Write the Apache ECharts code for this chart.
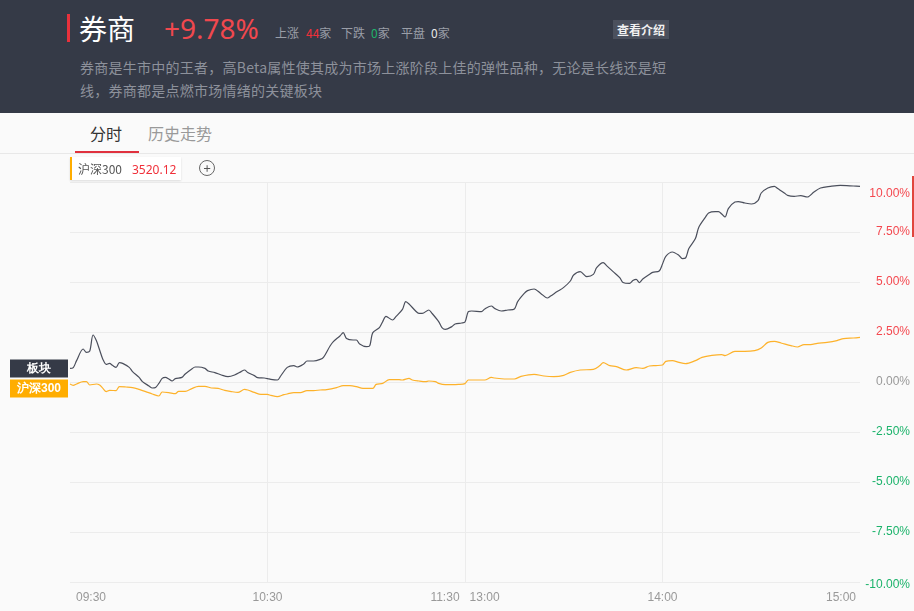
<!DOCTYPE html>
<html><head><meta charset="utf-8">
<script src="https://cdn.jsdelivr.net/npm/echarts@6/dist/echarts.min.js"></script>
<style>
body{margin:0;width:914px;height:611px;overflow:hidden;background:#fafafa;font-family:"Noto Sans CJK SC","Noto Sans",sans-serif;position:relative}
.a{position:absolute;white-space:nowrap}
#hd{position:absolute;left:0;top:0;width:914px;height:113px;background:#353a47}
</style></head><body>
<div id="hd">
  <div class="a" style="left:67px;top:14px;width:3px;height:28px;background:#e8313c"></div>
  <div class="a" style="left:79px;top:13px;font-size:28px;line-height:30px;color:#fff">券商</div>
  <div class="a" style="left:164px;top:13px;font-size:28px;line-height:30px;color:#f0484e;font-family:'Noto Sans',sans-serif">+9.78%</div>
  <div class="a" style="left:275px;top:25px;font-size:12px;line-height:16px;color:#9a9ea8">上涨</div>
  <div class="a" style="left:306px;top:25px;font-size:12px;line-height:16px;color:#9a9ea8"><span style="color:#f0303a">44</span>家</div>
  <div class="a" style="left:341px;top:25px;font-size:12px;line-height:16px;color:#9a9ea8">下跌</div>
  <div class="a" style="left:371px;top:25px;font-size:12px;line-height:16px;color:#9a9ea8"><span style="color:#1fb36b">0</span>家</div>
  <div class="a" style="left:401px;top:25px;font-size:12px;line-height:16px;color:#9a9ea8">平盘</div>
  <div class="a" style="left:431px;top:25px;font-size:12px;line-height:16px;color:#9a9ea8"><span style="color:#e8e8e8">0</span>家</div>
  <div class="a" style="left:613px;top:20px;width:56px;height:19px;background:#4b505d;color:#f2f2f2;font-size:12px;font-weight:bold;line-height:19px;text-align:center">查看介绍</div>
  <div class="a" style="left:80px;top:56px;font-size:14px;line-height:23px;color:#8d919b;letter-spacing:0.25px">券商是牛市中的王者，高Beta属性使其成为市场上涨阶段上佳的弹性品种，无论是长线还是短<br>线，券商都是点燃市场情绪的关键板块</div>
</div>
<div class="a" style="left:90px;top:122px;font-size:16px;line-height:22px;color:#333">分时</div>
<div class="a" style="left:148px;top:122px;font-size:16px;line-height:22px;color:#999">历史走势</div>
<div class="a" style="left:0;top:153px;width:914px;height:1px;background:#e8e8e8"></div>
<div class="a" style="left:75px;top:151px;width:64px;height:2px;background:#e0313e"></div>
<div class="a" style="left:70px;top:157px;width:109px;height:23px;background:#fff;border-left:2px solid #ffad00;box-shadow:0 1px 2px rgba(0,0,0,0.12);font-size:12px;line-height:23px;z-index:2"><span style="margin-left:6px;color:#555">沪深300</span><span style="margin-left:10px;color:#f0303a;font-family:'Noto Sans',sans-serif">3520.12</span></div>
<div class="a" style="left:199px;top:160px;width:14px;height:14px;border:1px solid #666;border-radius:50%;font-size:13px;line-height:14px;text-align:center;color:#555;z-index:2">+</div>
<div class="a" style="left:912px;top:176px;width:2px;height:61px;background:#e0463d;z-index:2"></div>
<div id="chart" style="position:absolute;left:0;top:113px;width:914px;height:498px"></div>
<script>
const tickLabels = ['09:30', '10:30', '11:30   13:00', '14:00', '15:00'];

const sectorMinute = [
  0,1,2,4,5,6,7,8,9,10,
  11,12,13,14,15,16,18,19,21,22,
  24,25,26,27,28,29,30,31,32,34,
  35,37,38,39,41,42,44,46,48,50,
  52,53,54,56,57,59,60,61,63,64,
  66,68,69,71,72,74,76,77,79,80,
  82,83,84,86,87,88,90,91,92,94,
  95,96,98,99,101,102,103,105,106,107,
  109,110,112,113,114,116,117,119,120,121,
  122,125,126,128,129,131,133,135,136,138,
  139,141,143,145,146,148,150,152,153,155,
  157,159,160,162,163,165,167,168,170,171,
  172,173,174,176,177,179,180,181,183,185,
  186,187,188,190,191,193,194,196,197,198,
  199,200,202,203,205,207,209,210,212,214,
  215,217,218,220,222,224,226,228,231,234,
  238,240
];
const sectorValue = [
  0.68,0.72,1.07,1.65,1.48,1.55,2.35,2.07,1.60,1.13,
  0.88,0.93,0.82,0.73,0.97,0.93,0.73,0.52,0.23,0.02,
  -0.20,-0.30,-0.27,-0.07,0.18,0.23,0.15,0.05,0.17,0.23,
  0.40,0.65,0.75,0.75,0.68,0.55,0.47,0.35,0.27,0.35,
  0.52,0.60,0.48,0.32,0.22,0.20,0.17,0.13,0.10,0.30,
  0.73,0.82,0.75,0.90,1.05,1.05,1.13,1.23,1.80,2.02,
  2.30,2.47,2.18,2.10,2.10,1.90,1.77,1.80,2.47,2.72,
  3.02,3.28,3.10,3.27,3.63,4.02,3.90,3.55,3.43,3.43,
  3.60,3.43,3.02,2.72,2.63,2.77,2.90,2.95,3.00,3.52,
  3.55,3.52,3.65,3.80,3.68,3.55,3.60,3.65,4.02,4.43,
  4.57,4.65,4.43,4.20,4.30,4.52,4.73,5.05,5.35,5.52,
  5.27,5.38,5.72,5.97,5.82,5.52,5.22,4.98,4.93,5.07,
  5.13,4.97,5.15,5.38,5.48,5.55,5.90,6.28,6.50,6.33,
  6.17,6.20,6.67,7.17,7.73,8.23,8.45,8.52,8.52,8.40,
  8.25,8.67,9.00,9.02,8.95,8.90,9.07,9.45,9.70,9.78,
  9.67,9.45,9.33,9.28,9.32,9.25,9.50,9.70,9.78,9.83,
  9.80,9.78
];

const indexMinute = [
  0,1,2,4,5,6,8,9,10,11,
  12,14,15,17,19,21,23,25,27,28,
  30,32,33,35,37,39,41,43,45,47,
  49,51,53,54,56,58,60,61,63,65,
  66,68,70,72,74,76,78,81,83,85,
  87,89,92,93,95,97,100,101,103,104,
  106,108,109,111,112,114,116,118,120,121,
  123,126,128,129,132,135,137,141,144,147,
  150,152,155,159,161,162,164,166,169,172,
  174,176,178,180,181,183,185,187,190,192,
  195,198,199,202,205,208,210,212,214,216,
  219,221,223,225,227,230,233,235,238,240
];
const indexValue = [
  -0.10,-0.17,-0.10,0.02,0.02,-0.15,-0.10,-0.15,-0.32,-0.48,
  -0.42,-0.43,-0.23,-0.25,-0.28,-0.37,-0.48,-0.60,-0.70,-0.50,
  -0.53,-0.58,-0.47,-0.47,-0.33,-0.22,-0.22,-0.30,-0.32,-0.42,
  -0.48,-0.52,-0.37,-0.40,-0.52,-0.62,-0.62,-0.67,-0.73,-0.63,
  -0.60,-0.53,-0.53,-0.43,-0.43,-0.40,-0.38,-0.28,-0.18,-0.18,
  -0.23,-0.32,-0.32,-0.12,-0.07,0.12,0.12,0.10,0.18,0.10,
  0.05,0.02,0.05,0.02,-0.07,-0.13,-0.13,-0.12,-0.08,0.10,
  0.10,0.10,0.23,0.20,0.15,0.15,0.28,0.38,0.30,0.27,
  0.33,0.48,0.60,0.63,0.82,0.97,0.82,0.77,0.60,0.72,
  0.68,0.80,0.82,0.85,1.03,1.07,0.98,0.92,1.07,1.23,
  1.33,1.37,1.32,1.53,1.53,1.57,1.70,1.98,2.03,1.95,
  1.82,1.75,1.87,1.87,1.93,1.98,2.07,2.17,2.20,2.23
];

const pairs = (m, v) => m.map((t, i) => [t, v[i]]);
const chart = echarts.init(document.getElementById('chart'));
chart.setOption({
  animation: false,
  grid: { left: 70, right: 54, top: 69, bottom: 29 },
  xAxis: {
    type: 'value', min: 0, max: 240, interval: 60,
    axisLine: { show: false }, axisTick: { show: false },
    splitLine: { show: true, showMinLine: false, showMaxLine: false, lineStyle: { color: '#ececec' } },
    axisLabel: {
      margin: 10, alignMinLabel: 'left', alignMaxLabel: 'right',
      formatter: function (v) {
        const s = tickLabels[Math.round(v / 60)];
        if (v === 0) return '{l|' + s + '}';
        if (v === 240) return '{r|' + s + '}';
        return '{m|' + s + '}';
      },
      rich: {
        l: { color: '#999', fontSize: 12, padding: [0, 0, 0, 6] },
        r: { color: '#999', fontSize: 12, padding: [0, 4, 0, 0] },
        m: { color: '#999', fontSize: 12 }
      }
    }
  },
  yAxis: {
    type: 'value', position: 'right', min: -10, max: 10, interval: 2.5,
    axisLine: { show: false }, axisTick: { show: false },
    splitLine: { lineStyle: { color: '#ececec' } },
    axisLabel: {
      align: 'right', margin: 50, fontSize: 12,
      verticalAlignMaxLabel: 'top',
      formatter: function (v) {
        const s = v.toFixed(2) + '%';
        if (v === 10) return '{t|' + s + '}';
        if (v === -10) return '{b|' + s + '}';
        return s;
      },
      rich: {
        t: { color: '#f4484f', fontSize: 12, padding: [6, 0, 0, 0] },
        b: { color: '#1cb36b', fontSize: 12, padding: [6, 0, 0, 0] }
      },
      color: v => (v > 0 ? '#f4484f' : (v < 0 ? '#1cb36b' : '#999'))
    }
  },
  series: [
    { type: 'line', data: pairs(sectorMinute, sectorValue), symbol: 'none', smooth: 0.3,
      lineStyle: { color: '#4b4f5c', width: 1.2 } },
    { type: 'line', data: pairs(indexMinute, indexValue), symbol: 'none', smooth: 0.3,
      lineStyle: { color: '#fdb22b', width: 1.2 } }
  ]
});
const p1 = chart.convertToPixel({ gridIndex: 0 }, [0, sectorValue[0]]);
const p2 = chart.convertToPixel({ gridIndex: 0 }, [0, indexValue[0]]);
const c1 = p1[1];
const c2 = Math.max(p2[1], c1 + 20);
function badge(cy, bg, txt) {
  return { type: 'group', children: [
    { type: 'rect', shape: { x: 10, y: cy - 9, width: 58, height: 18 }, style: { fill: bg } },
    { type: 'text', x: 39, y: cy, style: { text: txt, fill: '#fff', fontSize: 12, fontWeight: 'bold', align: 'center', verticalAlign: 'middle' } }
  ] };
}
chart.setOption({ graphic: [badge(c1, '#353a47', '板块'), badge(c2, '#ffad00', '沪深300')] });
</script>
</body></html>
